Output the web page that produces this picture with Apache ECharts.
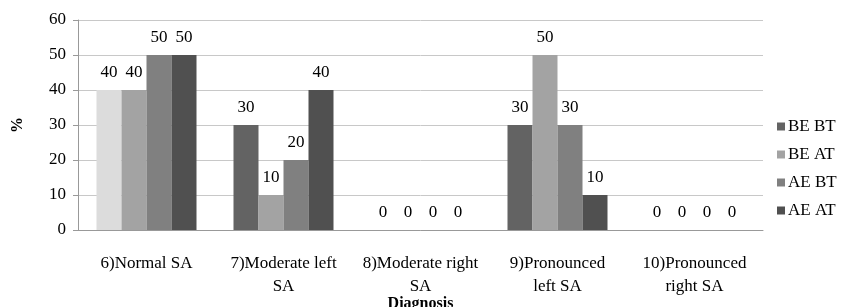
<!DOCTYPE html>
<html><head><meta charset="utf-8">
<script src="https://cdn.jsdelivr.net/npm/echarts@6/dist/echarts.min.js"></script>
<style>html,body{margin:0;padding:0;background:#fff}#c{width:843px;height:307px}</style>
</head><body><div id="c"></div>
<script>
const categories = ['6)Normal SA', '7)Moderate left\nSA', '8)Moderate right\nSA', '9)Pronounced\nleft SA', '10)Pronounced\nright SA'];
const seriesNames = ['BE BT', 'BE AT', 'AE BT', 'AE AT'];
const beBT = [40, 30, 0, 30, 0];
const beAT = [40, 10, 0, 50, 0];
const aeBT = [50, 20, 0, 30, 0];
const aeAT = [50, 40, 0, 10, 0];
const yTicks = [0, 10, 20, 30, 40, 50, 60];
const colors = ['#636363', '#a3a3a3', '#808080', '#505050'];
const font = 'Liberation Serif';

const chart = echarts.init(document.getElementById('c'));
const all = [beBT, beAT, aeBT, aeAT];
chart.setOption({
  animation: false,
  grid: { left: 78, right: 80, top: 20, bottom: 77, outerBoundsMode: 'none', containLabel: false },
  legend: {
    orient: 'vertical', left: 772, top: 113, itemWidth: 8, itemHeight: 8, itemGap: 11,
    icon: 'rect',
    textStyle: { fontFamily: font, fontSize: 17, color: '#000', padding: [0, 0, 0, -2] },
    data: seriesNames
  },
  xAxis: {
    type: 'category', data: categories,
    name: 'Diagnosis', nameLocation: 'middle', nameGap: 66, nameMoveOverlap: false,
    nameTextStyle: { fontFamily: font, fontSize: 16, fontWeight: 'bold', color: '#000' },
    axisLine: { lineStyle: { color: '#999' } },
    axisTick: { show: false },
    axisLabel: { fontFamily: font, fontSize: 17, color: '#000', margin: 22, lineHeight: 23, interval: 0 }
  },
  yAxis: {
    type: 'value', min: 0, max: 60, interval: 10,
    name: '%', nameLocation: 'middle', nameGap: 52, nameRotate: 90, nameMoveOverlap: false,
    nameTextStyle: { fontFamily: font, fontSize: 16, fontWeight: 'bold', color: '#000' },
    axisLine: { show: true, lineStyle: { color: '#999' } },
    axisTick: { show: true, length: 5, lineStyle: { color: '#999' } },
    splitLine: { lineStyle: { color: '#c8c8c8' } },
    axisLabel: { fontFamily: font, fontSize: 17, color: '#000', margin: 12,
      formatter: v => yTicks.includes(v) ? String(v) : '' }
  },
  series: all.map((arr, i) => ({
    name: seriesNames[i], type: 'bar',
    barGap: '0%', barCategoryGap: '27%',
    itemStyle: { color: colors[i] },
    label: { show: true, position: 'top', distance: 9, fontFamily: font, fontSize: 17, color: '#000' },
    data: arr.map((v, j) => (i === 0 && j === 0) ? { value: v, itemStyle: { color: '#dcdcdc' } } : v)
  }))
});
</script></body></html>
